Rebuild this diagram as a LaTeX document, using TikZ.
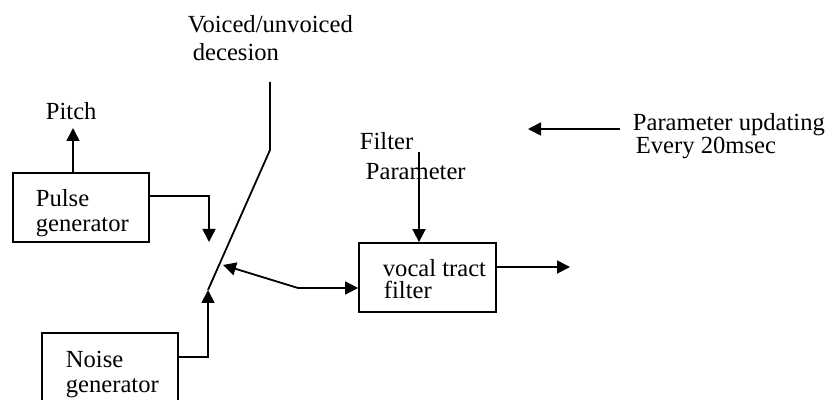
\documentclass[tikz,border=0pt]{standalone}
\usepackage{fontspec}
\setmainfont{Liberation Serif}
\usetikzlibrary{arrows.meta}
\begin{document}
\begin{tikzpicture}[x=0.5pt,y=-0.5pt,line width=0.9pt,
  tip/.style={-{Triangle[length=6.5pt,width=6.5pt]}},
  twotip/.style={{Triangle[length=6.5pt,width=6.5pt]}-{Triangle[length=6.5pt,width=6.5pt]}},
  lbl/.style={anchor=base west,inner sep=0pt,font=\fontsize{12.3}{15}\selectfont},
  block/.style={draw,inner sep=0pt,minimum width=68pt}]
\useasboundingbox (0,0) rectangle (829,400);
\clip (0,0) rectangle (829,400);

% blocks
\node[block,minimum height=34.5pt] (pulse) at (81,207.5) {};
\node[block,minimum height=45pt] (noise) at (110,378) {};
\node[block,minimum width=68.5pt,minimum height=34.5pt] (vocal) at (427.5,277.5) {};

% labels
\node[lbl] (pitch) at (45,120) {Pitch};
\node[lbl] (pulse1) at (35,207) {Pulse};
\node[lbl] (pulse2) at (35,232) {generator};
\node[lbl] (noise1) at (65,367) {Noise};
\node[lbl] (noise2) at (65,393) {generator};
\node[lbl] (vocal1) at (382,277) {vocal tract};
\node[lbl] (vocal2) at (383,299) {filter};
\node[lbl] (fp1) at (359,150) {Filter};
\node[lbl] (fp2) at (365,180) {Parameter};
\node[lbl] (vu1) at (187,33) {Voiced/unvoiced};
\node[lbl] (vu2) at (192,61) {decesion};
\node[lbl] (upd1) at (632,131) {Parameter updating};
\node[lbl] (upd2) at (635,154) {Every 20msec};

% connector points
\coordinate (pitchtip) at (73,128);
\coordinate (pulseout) at (149,196);
\coordinate (vtip) at (209,242);
\coordinate (noiseout) at (178,357);
\coordinate (utip) at (208,290);
\coordinate (swtop) at (270,82);
\coordinate (swknee) at (270,150);
\coordinate (swmid) at (223,265);
\coordinate (bend) at (298,288);
\coordinate (fpstart) at (419,152);
\coordinate (outtip) at (570,267);
\coordinate (updstart) at (620,129);
\coordinate (updtip) at (528,129);

% voiced/unvoiced switch
\draw (swtop) -- (swknee) -- (utip);

% connectors
\draw[tip] (pulse.north -| pitchtip) -- (pitchtip);
\draw[tip] (pulse.east |- pulseout) -| (vtip);
\draw[tip] (noise.east |- noiseout) -| (utip);
\draw[twotip] (swmid) -- (bend) -- (vocal.west |- bend);
\draw[tip] (fpstart) -- (vocal.north -| fpstart);
\draw[tip] (vocal.east |- outtip) -- (outtip);
\draw[tip] (updstart) -- (updtip);
\end{tikzpicture}
\end{document}
